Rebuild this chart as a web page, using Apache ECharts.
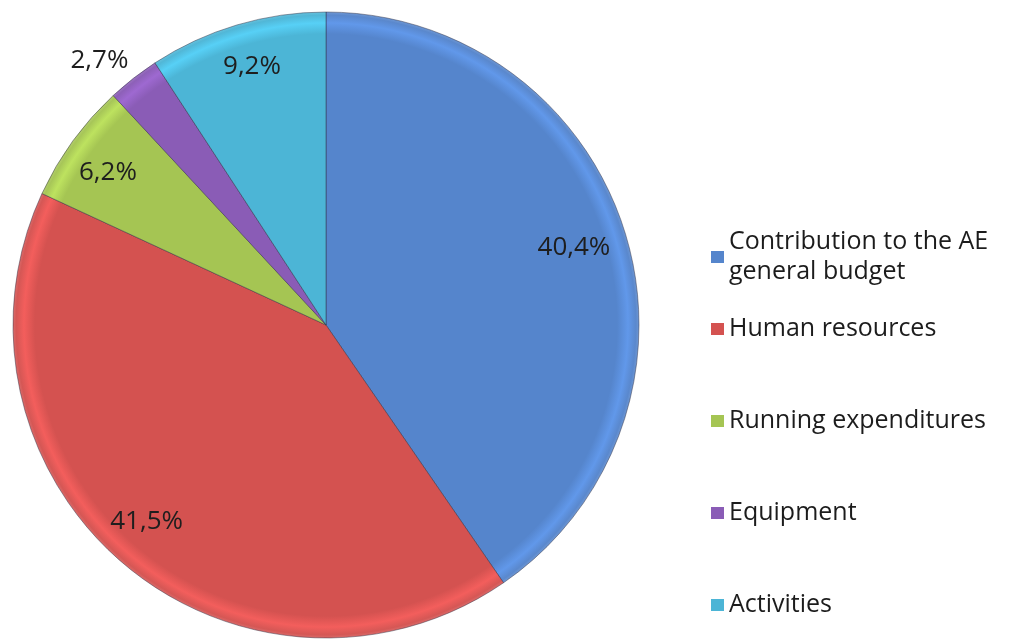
<!DOCTYPE html>
<html>
<head>
<meta charset="utf-8">
<script src="https://cdn.jsdelivr.net/npm/echarts@6/dist/echarts.min.js"></script>
<style>
  html, body { margin: 0; padding: 0; background: #fff; }
  #main { width: 1018px; height: 641px; }
</style>
</head>
<body>
<div id="main"></div>
<script>
// pie data, clockwise from 12 o'clock
const categories = [
  "Contribution to the AE general budget",
  "Human resources",
  "Running expenditures",
  "Equipment",
  "Activities",
]
const shares = [40.4, 41.5, 6.2, 2.7, 9.2]
const colors = ["#5585cc", "#d45250", "#a5c553", "#8a5cb6", "#4cb5d6"]

const cx = 326
const cy = 325
const R = 313

const chart = echarts.init(document.getElementById("main"))

// lighter rim + dark edge, a rough take on the excel bevel
const bevel = (c) =>
  new echarts.graphic.RadialGradient(
    cx,
    cy,
    R,
    [
      { offset: 0, color: c },
      { offset: 0.93, color: c },
      { offset: 0.965, color: echarts.color.lift(c, -0.15) },
      { offset: 0.99, color: echarts.color.lift(c, 0.03) },
      { offset: 1, color: echarts.color.lift(c, 0.15) },
    ],
    true
  )

const fmt = (v) => v.toFixed(1).replace(".", ",") + "%"

const pieData = categories.map((name, i) => ({
  name: name,
  value: shares[i],
  itemStyle: { color: bevel(colors[i]) },
}))

// invisible ring only used to put the labels at ~0.82 R
const labelData = categories.map((name, i) => {
  const d = { name: name, value: shares[i] }
  if (i === 1) d.label = { offset: [-12, -2] }
  if (i === 2) d.label = { offset: [-8, 0] }
  if (i === 3) d.label = { position: "outside", offset: [5, -11] }
  if (i === 4) d.label = { offset: [0, -10] }
  return d
})

const legendText = {
  fontFamily: "Open Sans",
  fontSize: 25,
  color: "#1c1c1c",
  lineHeight: 30,
}

const legendItems = categories.map((name, i) => ({
  name: name,
  itemStyle: { color: colors[i], borderWidth: 0 },
}))

let option = {
  animation: false,
  color: colors,
  legend: [
    {
      orient: "vertical",
      left: 706,
      top: 222,
      itemWidth: 13,
      itemHeight: 12,
      itemGap: 10,
      icon: "rect",
      data: legendItems.slice(0, 1),
      formatter: () => "Contribution to the AE\ngeneral budget",
      textStyle: legendText,
      selectedMode: false,
    },
    {
      orient: "vertical",
      left: 706,
      top: 309,
      itemWidth: 13,
      itemHeight: 12,
      itemGap: 62,
      icon: "rect",
      data: legendItems.slice(1),
      textStyle: legendText,
      selectedMode: false,
    },
  ],
  series: [
    {
      name: "budget",
      type: "pie",
      center: [cx, cy],
      radius: [0, R],
      startAngle: 90,
      clockwise: true,
      silent: true,
      label: { show: false },
      labelLine: { show: false },
      itemStyle: {
        borderColor: "rgba(40,40,60,0.45)",
        borderWidth: 1,
      },
      data: pieData,
    },
    {
      name: "labels",
      type: "pie",
      center: [cx, cy],
      radius: [R * 0.64, R],
      startAngle: 90,
      clockwise: true,
      silent: true,
      itemStyle: { color: "rgba(0,0,0,0)", borderWidth: 0 },
      label: {
        show: true,
        position: "inside",
        formatter: (p) => fmt(p.value),
        fontFamily: "Open Sans",
        fontSize: 26,
        color: "#1e1e1e",
      },
      labelLine: { show: false, length: 8, length2: 0 },
      data: labelData,
    },
  ],
}

chart.setOption(option)
window.addEventListener("resize", () => {
  chart.resize()
})
</script>
</body>
</html>
